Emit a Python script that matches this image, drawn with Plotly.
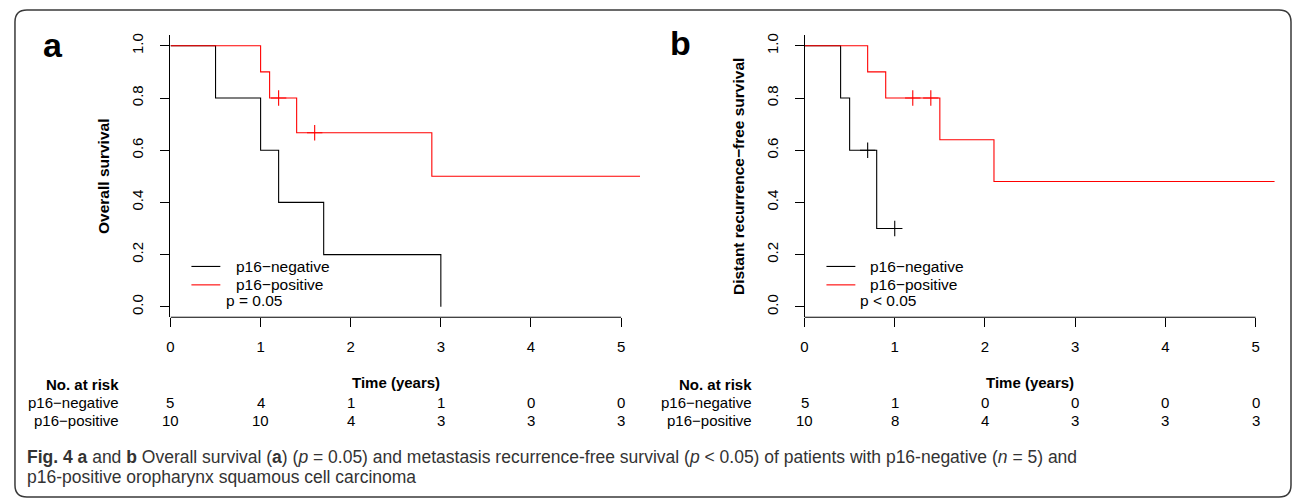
import plotly.graph_objects as go

# ---------------- data ----------------
# Panel a: overall survival
os_neg_t = [0, 0.5, 1.0, 1.2, 1.7, 3.0]
os_neg_s = [1.0, 0.8, 0.6, 0.4, 0.2, 0.0]
os_pos_t = [0, 1.0, 1.1, 1.4, 2.9, 5.21]
os_pos_s = [1.0, 0.9, 0.8, 0.6667, 0.5, 0.5]
os_pos_cens_t = [1.2, 1.6]
os_pos_cens_s = [0.8, 0.6667]

# Panel b: distant recurrence-free survival
dr_neg_t = [0, 0.4, 0.5, 0.8, 1.0]
dr_neg_s = [1.0, 0.8, 0.6, 0.3, 0.3]
dr_neg_cens_t = [0.7, 1.0]
dr_neg_cens_s = [0.6, 0.3]
dr_pos_t = [0, 0.7, 0.9, 1.5, 2.1, 5.21]
dr_pos_s = [1.0, 0.9, 0.8, 0.64, 0.48, 0.48]
dr_pos_cens_t = [1.2, 1.4]
dr_pos_cens_s = [0.8, 0.8]

# risk tables
risk_times = [0, 1, 2, 3, 4, 5]
risk_a_neg = [5, 4, 1, 1, 0, 0]
risk_a_pos = [10, 10, 4, 3, 3, 3]
risk_b_neg = [5, 1, 0, 0, 0, 0]
risk_b_pos = [10, 8, 4, 3, 3, 3]

y_ticks = [0.0, 0.2, 0.4, 0.6, 0.8, 1.0]
y_ticktext = ["0.0", "0.2", "0.4", "0.6", "0.8", "1.0"]
group_names = ["p16\u2212negative", "p16\u2212positive"]
p_texts = ["p = 0.05", "p < 0.05"]
y_titles = ["Overall survival", "Distant recurrence\u2212free survival"]

# ---------------- layout helpers ----------------
W, H = 1292, 502
def px(x):
    return x / W
def py(y):
    return 1 - y / H

FONT = "Liberation Sans, Arial, sans-serif"
BLACK = "#000000"
RED = "#ff0000"
LW = 1.1

fig = go.Figure()

def add_panel(xa, ya, neg_t, neg_s, pos_t, pos_s, cens):
    fig.add_trace(go.Scatter(x=neg_t, y=neg_s, mode="lines", line_shape="hv",
                             line=dict(color=BLACK, width=LW), name=group_names[0],
                             xaxis=xa, yaxis=ya, showlegend=False))
    fig.add_trace(go.Scatter(x=pos_t, y=pos_s, mode="lines", line_shape="hv",
                             line=dict(color=RED, width=LW), name=group_names[1],
                             xaxis=xa, yaxis=ya, showlegend=False))
    for (ct, cs, col) in cens:
        fig.add_trace(go.Scatter(x=ct, y=cs, mode="markers",
                                 marker=dict(symbol="cross-thin", size=11,
                                             line=dict(color=col, width=LW), color=col),
                                 showlegend=False, xaxis=xa, yaxis=ya, hoverinfo="skip"))

add_panel("x", "y", os_neg_t, os_neg_s, os_pos_t, os_pos_s,
          [(os_pos_cens_t, os_pos_cens_s, RED)])
add_panel("x2", "y2", dr_neg_t, dr_neg_s, dr_pos_t, dr_pos_s,
          [(dr_neg_cens_t, dr_neg_cens_s, BLACK), (dr_pos_cens_t, dr_pos_cens_s, RED)])

ydom = [py(316.5), py(33.5)]
tickfont = dict(family=FONT, size=15, color=BLACK)

def xaxis_cfg(left, right, per_year):
    return dict(domain=[px(left), px(right)], range=[0, (right - left) / per_year],
                showline=False, showgrid=False, zeroline=False,
                ticks="outside", ticklen=9, tickwidth=1, tickcolor=BLACK,
                tickvals=risk_times, tickfont=tickfont, ticklabelstandoff=7,
                fixedrange=True)

def yaxis_cfg(anchor):
    return dict(domain=ydom, range=[-0.04, 1.04], anchor=anchor,
                showline=True, linecolor=BLACK, linewidth=1,
                showgrid=False, zeroline=False,
                ticks="outside", ticklen=9, tickwidth=1, tickcolor=BLACK,
                tickvals=y_ticks, ticktext=y_ticktext, tickangle=-90,
                tickfont=tickfont, ticklabelstandoff=11, fixedrange=True)

fig.update_layout(
    width=W, height=H, autosize=False,
    margin=dict(l=0, r=0, t=0, b=0),
    paper_bgcolor="white", plot_bgcolor="rgba(0,0,0,0)",
    xaxis=dict(anchor="y", **xaxis_cfg(167, 650, 90.4)),
    yaxis=yaxis_cfg("x"),
    xaxis2=dict(anchor="y2", **xaxis_cfg(803, 1285, 90.5)),
    yaxis2=yaxis_cfg("x2"),
    showlegend=False,
)

shapes = []
# x axis lines spanning first to last tick
for xr, yr in (("x", "y domain"), ("x2", "y2 domain")):
    shapes.append(dict(type="line", xref=xr, yref=yr, x0=risk_times[0], x1=risk_times[-1],
                       y0=0, y1=0, line=dict(color=BLACK, width=1)))

# rounded frame
L, T, R, B, r = 11, 8, 1291, 497, 12
path = (f"M {px(L + r)},{py(T)} L {px(R - r)},{py(T)} Q {px(R)},{py(T)} {px(R)},{py(T + r)} "
        f"L {px(R)},{py(B - r)} Q {px(R)},{py(B)} {px(R - r)},{py(B)} "
        f"L {px(L + r)},{py(B)} Q {px(L)},{py(B)} {px(L)},{py(B - r)} "
        f"L {px(L)},{py(T + r)} Q {px(L)},{py(T)} {px(L + r)},{py(T)} Z")
shapes.append(dict(type="path", xref="paper", yref="paper", path=path,
                   line=dict(color="#3a3a3a", width=1.5)))

ann = []
def text(x, y, s, size=15, bold=False, xanchor="center", xref="paper", angle=0,
         family=FONT, color=BLACK):
    ann.append(dict(x=x, y=y, xref=xref, yref="paper", text=(f"<b>{s}</b>" if bold else s),
                    showarrow=False, xanchor=xanchor, yanchor="middle", textangle=angle,
                    font=dict(family=family, size=size, color=color)))

# legends (line samples + labels) and p values
for (l0, l1, tx, pxv, ptxt) in ((188, 217, 231, 221, p_texts[0]),
                                (825, 854, 867, 857, p_texts[1])):
    for yy, col, name in ((265.5, BLACK, group_names[0]), (284, RED, group_names[1])):
        shapes.append(dict(type="line", xref="paper", yref="paper",
                           x0=px(l0), x1=px(l1), y0=py(yy), y1=py(yy),
                           line=dict(color=col, width=LW)))
        text(px(tx), py(yy), name, size=15.5, xanchor="left")
    text(px(pxv), py(300), ptxt.replace("<", "&lt;"), size=15.5, xanchor="left")

fig.update_layout(shapes=shapes)

# panel letters
text(px(49), py(43), "a", size=34, bold=True)
text(px(679), py(41), "b", size=34, bold=True)
# y titles
text(px(100), py(175), y_titles[0], size=15.5, bold=True, angle=-90)
text(px(737), py(175), y_titles[1], size=15.5, bold=True, angle=-90)
# x titles
text(px(393), py(382), "Time (years)", bold=True)
text(px(1029), py(382), "Time (years)", bold=True)

# risk tables
for right_px, xr, neg, pos in ((117, "x", risk_a_neg, risk_a_pos),
                               (752, "x2", risk_b_neg, risk_b_pos)):
    text(px(right_px), py(384), "No. at risk", bold=True, xanchor="right")
    text(px(right_px), py(402), group_names[0], xanchor="right")
    text(px(right_px), py(420), group_names[1], xanchor="right")
    for t, n1, n2 in zip(risk_times, neg, pos):
        text(t, py(402), str(n1), xref=xr)
        text(t, py(420), str(n2), xref=xr)

# caption
cap1 = ("<b>Fig. 4 a</b> and <b>b</b> Overall survival (<b>a</b>) (<i>p</i> = 0.05) and metastasis "
        "recurrence-free survival (<i>p</i> &lt; 0.05) of patients with p16-negative (<i>n</i> = 5) and")
cap2 = "p16-positive oropharynx squamous cell carcinoma"
text(px(21), py(457), cap1, size=17.5, xanchor="left", color="#333333")
text(px(21), py(477), cap2, size=17.5, xanchor="left", color="#333333")

fig.update_layout(annotations=ann)

fig.write_html("out.html", config={"displayModeBar": False},
               post_script="document.body.style.margin='0';")
